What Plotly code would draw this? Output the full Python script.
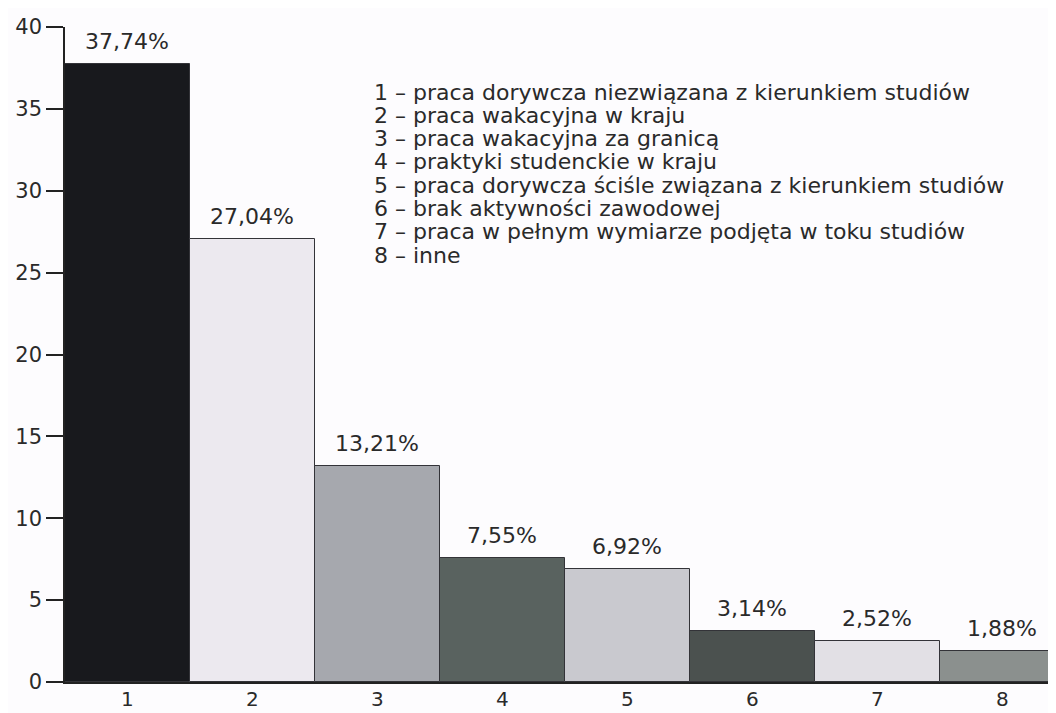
import plotly.graph_objects as go

categories = [1, 2, 3, 4, 5, 6, 7, 8]
values = [37.74, 27.04, 13.21, 7.55, 6.92, 3.14, 2.52, 1.88]
value_labels = ["37,74%", "27,04%", "13,21%", "7,55%", "6,92%", "3,14%", "2,52%", "1,88%"]
bar_colors = ["#18191d", "#ece9ef", "#a6a8ae", "#59625f", "#c9c9cf", "#4b514f", "#e2e0e5", "#8b908e"]
legend_lines = [
    "1 – praca dorywcza niezwiązana z kierunkiem studiów",
    "2 – praca wakacyjna w kraju",
    "3 – praca wakacyjna za granicą",
    "4 – praktyki studenckie w kraju",
    "5 – praca dorywcza ściśle związana z kierunkiem studiów",
    "6 – brak aktywności zawodowej",
    "7 – praca w pełnym wymiarze podjęta w toku studiów",
    "8 – inne",
]
y_ticks = [0, 5, 10, 15, 20, 25, 30, 35, 40]

FONT = "DejaVu Sans, Liberation Sans, Arial, sans-serif"
TXT = "#2a2a2a"
# page body has an 8px margin, so the figure is sized to the remaining window
OFF = 8
W, H = 1056 - OFF, 713 - OFF
L, R, T, B = 65 - OFF, 0, 27 - OFF, 31
plot_h = H - T - B
plot_w = W - L - R

fig = go.Figure()
fig.add_trace(go.Bar(
    x=categories, y=values,
    marker=dict(color=bar_colors, line=dict(color="#333338", width=1)),
    width=1.0,
    hoverinfo="skip",
))

annotations = []
for c, v, lab in zip(categories, values, value_labels):
    annotations.append(dict(
        x=c, y=v, xref="x", yref="y", text=lab, showarrow=False,
        yanchor="bottom", yshift=8,
        font=dict(family=FONT, size=22, color=TXT),
    ))

# category labels under the baseline
for c in categories:
    annotations.append(dict(
        x=c, y=0, xref="x", yref="y", text=str(c), showarrow=False,
        yanchor="middle", yshift=-17,
        font=dict(family=FONT, size=20, color=TXT),
    ))

for i, line in enumerate(legend_lines):
    ypix = 92 + i * 23.3 - OFF
    annotations.append(dict(
        x=(372 - OFF - L) / plot_w, y=(H - B - ypix) / plot_h,
        xref="paper", yref="paper", text=line, showarrow=False,
        xanchor="left", yanchor="middle",
        font=dict(family=FONT, size=22, color=TXT),
    ))

fig.update_layout(
    width=W, height=H,
    margin=dict(l=L, r=R, t=T, b=B, pad=0, autoexpand=False),
    paper_bgcolor="#fdfcfe", plot_bgcolor="#fdfcfe",
    showlegend=False,
    bargap=0,
    annotations=annotations,
    xaxis=dict(
        range=[0.5, 8.43], tickvals=categories, showticklabels=False,
        showgrid=False, zeroline=False, showline=True, linecolor="#222", linewidth=1.5,
        ticks="", automargin=False, fixedrange=True,
    ),
    yaxis=dict(
        range=[0, 40], tickvals=y_ticks,
        showgrid=False, zeroline=False, showline=True, linecolor="#222", linewidth=1.5,
        ticks="outside", ticklen=17, tickwidth=1.5, tickcolor="#222",
        tickfont=dict(family=FONT, size=21, color=TXT),
        automargin=False, fixedrange=True,
    ),
)

fig.write_html("out.html")
